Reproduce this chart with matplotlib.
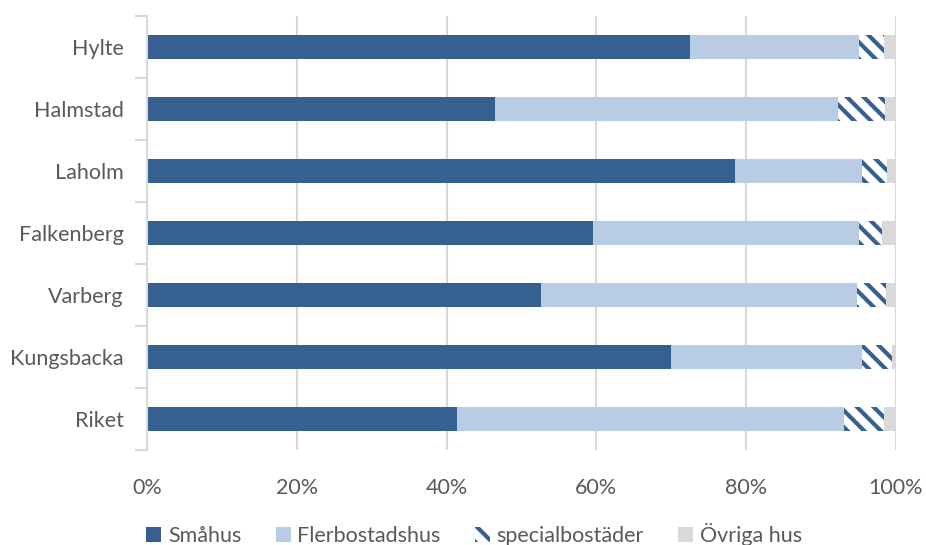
import matplotlib.pyplot as plt
import matplotlib.ticker as mticker
import numpy as np

# data (percent of total)
kommuner = ["Hylte", "Halmstad", "Laholm", "Falkenberg", "Varberg", "Kungsbacka", "Riket"]
smahus = [72.5, 46.5, 78.5, 59.6, 52.6, 70.0, 41.4]
flerbostadshus = [22.6, 45.8, 17.0, 35.5, 42.2, 25.5, 51.7]
specialbostader = [3.3, 6.2, 3.3, 3.0, 3.8, 4.0, 5.3]
ovriga_hus = [1.6, 1.5, 1.2, 1.9, 1.4, 0.5, 1.6]

dark = "#35608F"
light = "#B8CCE4"
grey = "#D9D9D9"
text_col = "#595959"

plt.rcParams["font.family"] = ["Lato", "DejaVu Sans"]
plt.rcParams["hatch.linewidth"] = 3.0

fig = plt.figure(figsize=(9.26, 5.45), dpi=100)
ax = fig.add_axes([147 / 926, 1 - 450 / 545, (896 - 147) / 926, (450 - 16) / 545])

y = np.arange(len(kommuner))
h = 0.39
left = np.zeros(len(kommuner))

ax.barh(y, smahus, height=h, left=left, color=dark, label="Småhus", zorder=3)
left += smahus
ax.barh(y, flerbostadshus, height=h, left=left, color=light, label="Flerbostadshus", zorder=3)
left += flerbostadshus
ax.barh(y, specialbostader, height=h, left=left, facecolor="white", edgecolor=dark,
        linewidth=0, hatch="\\\\", label="specialbostäder", zorder=3)
left += specialbostader
ax.barh(y, ovriga_hus, height=h, left=left, color=grey, label="Övriga hus", zorder=3)

ax.set_xlim(0, 100)
ax.set_ylim(len(kommuner) - 0.5, -0.5)
ax.xaxis.set_major_locator(mticker.MultipleLocator(20))
ax.xaxis.set_major_formatter(mticker.FuncFormatter(lambda v, p: f"{v:.0f}%"))
ax.grid(axis="x", color=grey, linewidth=1.5, zorder=0)

ax.set_yticks(y)
ax.set_yticklabels(kommuner)
ax.set_yticks(np.arange(-0.5, len(kommuner), 1), minor=True)
ax.tick_params(axis="y", which="major", length=0, pad=17, labelsize=15.5, labelcolor=text_col)
ax.tick_params(axis="y", which="minor", length=9, width=1.5, color=grey)
ax.tick_params(axis="x", length=0, pad=20, labelsize=15.5, labelcolor=text_col)

for s in ["top", "right", "bottom"]:
    ax.spines[s].set_visible(False)
ax.spines["left"].set_color(grey)
ax.spines["left"].set_linewidth(1.5)
ax.spines["left"].set_zorder(4)

fig.legend(loc="center", bbox_to_anchor=(0.512, 0.02), ncol=4, frameon=False,
           fontsize=15.5, labelcolor=text_col, handlelength=0.7, handleheight=0.7,
           handletextpad=0.3, columnspacing=1.6)

plt.savefig("out.png", dpi=100)
plt.close()
